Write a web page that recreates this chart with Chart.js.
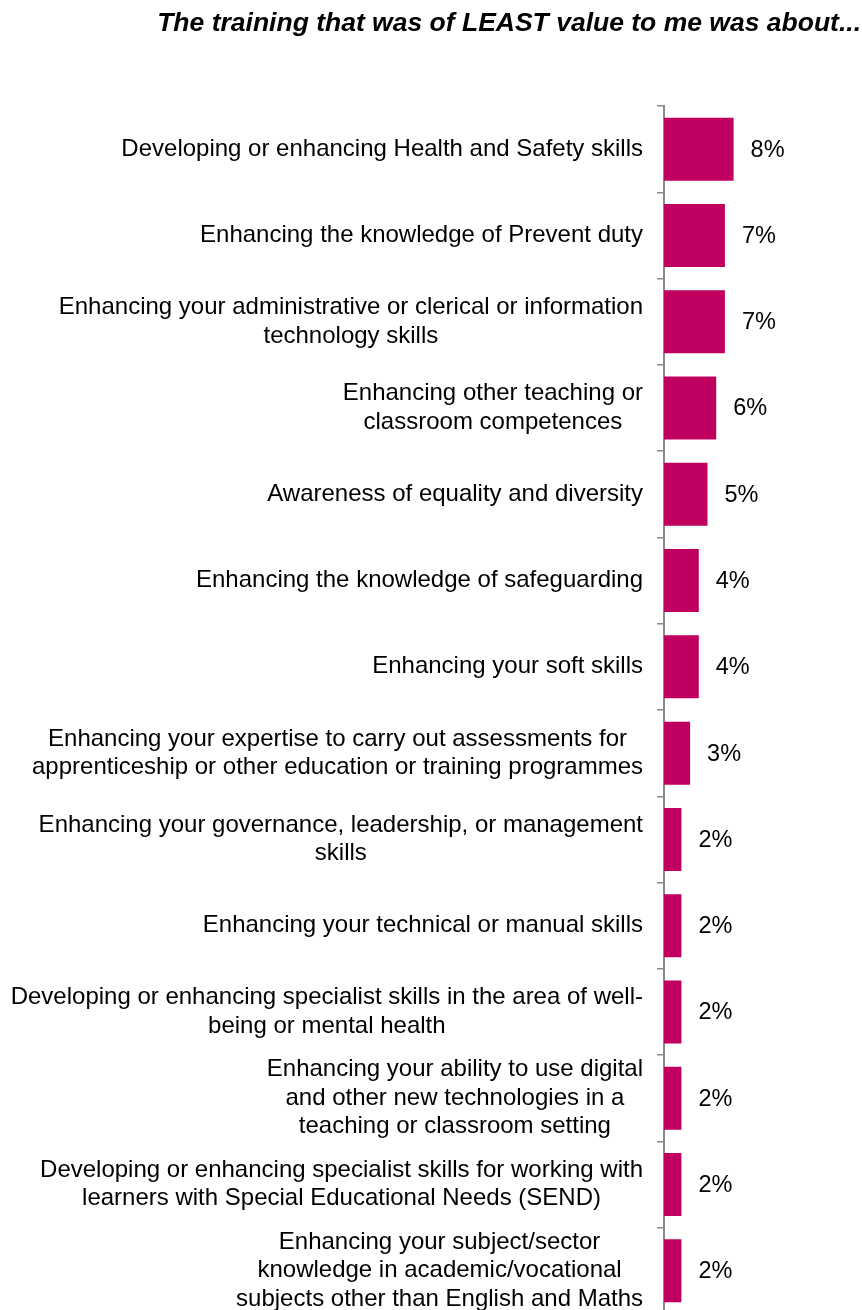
<!DOCTYPE html>
<html>
<head>
<meta charset="utf-8">
<script src="https://cdn.jsdelivr.net/npm/chart.js@4.4.1/dist/chart.umd.min.js"></script>
<style>
  html, body { margin: 0; padding: 0; background: #ffffff; overflow: hidden; }
  #wrap { width: 862px; height: 1320px; position: relative; }
</style>
</head>
<body>
<div id="wrap"><canvas id="chart" width="862" height="1320"></canvas></div>
<script>
// Survey answers: which training was of least value
const chartTitle = 'The training that was of LEAST value to me was about...';

const categories = [
  ['Developing or enhancing Health and Safety skills'],
  ['Enhancing the knowledge of Prevent duty'],
  ['Enhancing your administrative or clerical or information', 'technology skills'],
  ['Enhancing other teaching or', 'classroom competences'],
  ['Awareness of equality and diversity'],
  ['Enhancing the knowledge of safeguarding'],
  ['Enhancing your soft skills'],
  ['Enhancing your expertise to carry out assessments for', 'apprenticeship or other education or training programmes'],
  ['Enhancing your governance, leadership, or management', 'skills'],
  ['Enhancing your technical or manual skills'],
  ['Developing or enhancing specialist skills in the area of well-', 'being or mental health'],
  ['Enhancing your ability to use digital', 'and other new technologies in a', 'teaching or classroom setting'],
  ['Developing or enhancing specialist skills for working with', 'learners with Special Educational Needs (SEND)'],
  ['Enhancing your subject/sector', 'knowledge in academic/vocational', 'subjects other than English and Maths']
];

const percentages = [8, 7, 7, 6, 5, 4, 4, 3, 2, 2, 2, 2, 2, 2];

const BAR_COLOR = '#BF0060';
const AXIS_COLOR = '#8A8A8A';
const FONT_FAMILY = '"Liberation Sans", Arial, Helvetica, sans-serif';
const LABEL_SIZE = 24;
const VALUE_SIZE = 23.5;
const LINE_GAP = 28.5;

// Title in the top-right corner
const titlePlugin = {
  id: 'cornerTitle',
  afterDraw(chart) {
    const ctx = chart.ctx;
    ctx.save();
    ctx.font = 'italic bold 26.5px ' + FONT_FAMILY;
    ctx.fillStyle = '#000000';
    ctx.textAlign = 'right';
    ctx.textBaseline = 'alphabetic';
    ctx.fillText(chartTitle, 861, 31);
    ctx.restore();
  }
};

// Category names: each block right-aligned to the axis, its lines centred on each other
const categoryLabelPlugin = {
  id: 'categoryLabels',
  afterDraw(chart) {
    const ctx = chart.ctx;
    const yScale = chart.scales.y;
    const rightEdge = 643;
    ctx.save();
    ctx.font = LABEL_SIZE + 'px ' + FONT_FAMILY;
    ctx.fillStyle = '#000000';
    ctx.textAlign = 'center';
    ctx.textBaseline = 'middle';
    categories.forEach((lines, i) => {
      const yc = yScale.getPixelForValue(i);
      const blockWidth = Math.max(...lines.map(l => ctx.measureText(l).width));
      const xc = rightEdge - blockWidth / 2;
      const top = yc - (lines.length - 1) * LINE_GAP / 2;
      lines.forEach((line, k) => ctx.fillText(line, xc, top + k * LINE_GAP));
    });
    ctx.restore();
  }
};

// Percentage labels after each bar
const valueLabelPlugin = {
  id: 'valueLabels',
  afterDatasetsDraw(chart) {
    const ctx = chart.ctx;
    const meta = chart.getDatasetMeta(0);
    ctx.save();
    ctx.font = VALUE_SIZE + 'px ' + FONT_FAMILY;
    ctx.fillStyle = '#000000';
    ctx.textAlign = 'left';
    ctx.textBaseline = 'middle';
    meta.data.forEach((bar, i) => {
      ctx.fillText(percentages[i] + '%', bar.x + 17, bar.y + 1);
    });
    ctx.restore();
  }
};

new Chart(document.getElementById('chart'), {
  type: 'bar',
  data: {
    labels: categories.map(c => c.join(' ')),
    datasets: [{
      data: percentages,
      backgroundColor: BAR_COLOR,
      borderWidth: 0,
      barPercentage: 0.73,
      categoryPercentage: 1.0
    }]
  },
  options: {
    indexAxis: 'y',
    responsive: false,
    animation: false,
    layout: { padding: { top: 106, right: 24, bottom: 6, left: 0 } },
    plugins: {
      legend: { display: false },
      title: { display: false },
      tooltip: { enabled: false }
    },
    scales: {
      x: {
        display: false,
        min: 0,
        max: 20
      },
      y: {
        offset: true,
        afterFit(scale) { scale.width = 664; },
        ticks: { display: false },
        grid: {
          offset: true,
          drawOnChartArea: false,
          drawTicks: true,
          tickLength: 7,
          color: AXIS_COLOR,
          lineWidth: 1.5
        },
        border: { display: true, color: AXIS_COLOR, width: 2 }
      }
    }
  },
  plugins: [titlePlugin, categoryLabelPlugin, valueLabelPlugin]
});
</script>
</body>
</html>
